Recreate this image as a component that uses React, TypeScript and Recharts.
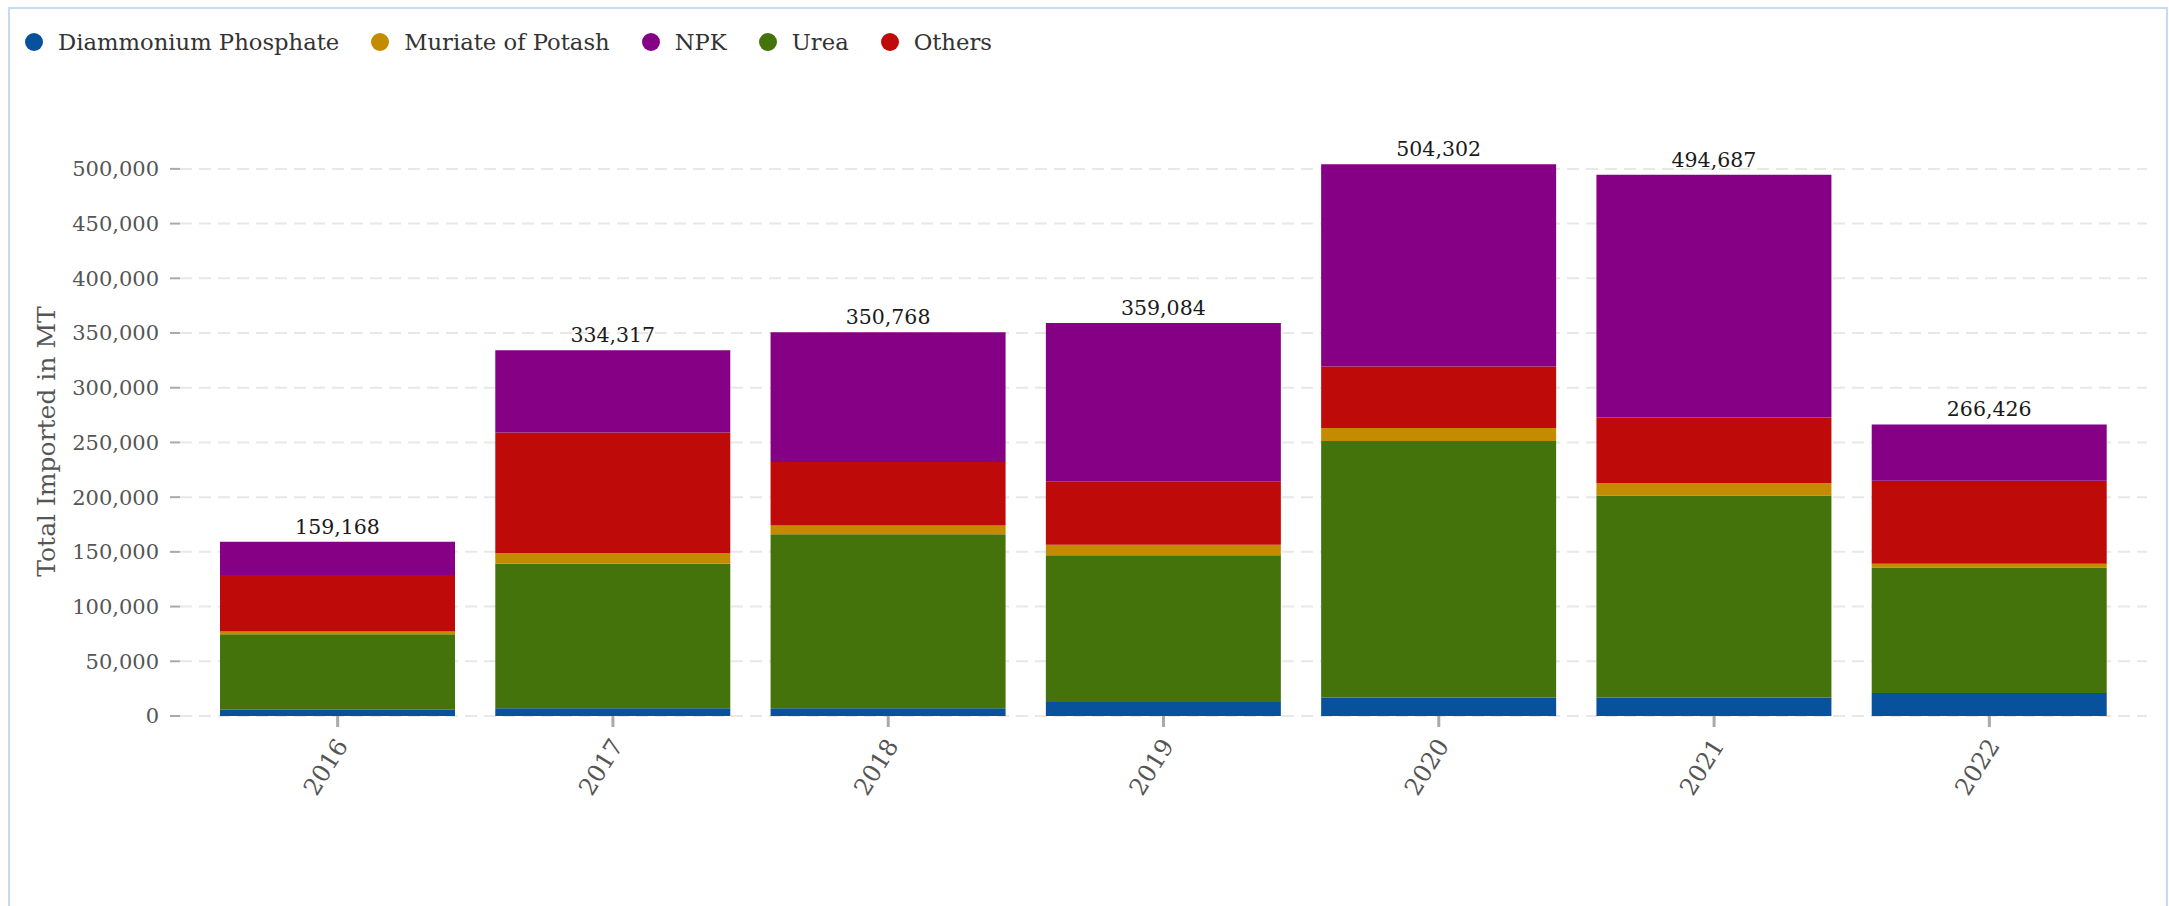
import React from "react";
import {
  BarChart,
  Bar,
  XAxis,
  YAxis,
  CartesianGrid,
  LabelList,
  Label,
} from "recharts";

const years = ["2016", "2017", "2018", "2019", "2020", "2021", "2022"];
const dap = [5600, 7000, 7000, 12900, 16800, 16800, 21000];
const urea = [69200, 132200, 159100, 133900, 234600, 184600, 114700];
const mop = [2400, 9800, 8000, 9800, 11900, 11200, 3500];
const others = [51700, 110200, 58000, 58000, 56000, 60100, 75900];
const npk = [30268, 75117, 118668, 144484, 185002, 221987, 51326];
const totals = [159168, 334317, 350768, 359084, 504302, 494687, 266426];
const yTicks = [0, 50000, 100000, 150000, 200000, 250000, 300000, 350000, 400000, 450000, 500000];
const Y_MAX = 520000;

// legend order (as shown) and colours
const series = [
  { key: "dap", name: "Diammonium Phosphate", color: "#08519c" },
  { key: "mop", name: "Muriate of Potash", color: "#c48a00" },
  { key: "npk", name: "NPK", color: "#850085" },
  { key: "urea", name: "Urea", color: "#44730b" },
  { key: "others", name: "Others", color: "#bf0a0a" },
];
const colorOf = (k: string) => series.find((s) => s.key === k)!.color;

// stacking order bottom -> top
const stackOrder = ["dap", "urea", "mop", "others", "npk"];

const data = years.map((year, i) => ({
  year,
  dap: dap[i],
  urea: urea[i],
  mop: mop[i],
  others: others[i],
  npk: npk[i],
  total: totals[i],
}));

const FONT = "'DejaVu Serif', serif";
const fmt = (v: number) => Number(v).toLocaleString("en-US");

function YearTick({ x, y, payload }: any) {
  return (
    <g transform={`translate(${x + 4},${y})`}>
      <text
        x={0}
        y={0}
        dy="0.35em"
        textAnchor="end"
        transform="rotate(-58)"
        fill="#555"
        fontSize={24}
        fontFamily={FONT}
      >
        {payload.value}
      </text>
    </g>
  );
}

function AxisTitle({ viewBox }: any) {
  const cx = 46;
  const cy = (viewBox?.y ?? 147) + (viewBox?.height ?? 569) / 2 + 10;
  return (
    <text
      x={cx}
      y={cy}
      transform={`rotate(-90, ${cx}, ${cy})`}
      textAnchor="middle"
      dominantBaseline="central"
      fill="#555"
      fontSize={25}
      fontFamily={FONT}
    >
      Total Imported in MT
    </text>
  );
}

function LegendRow() {
  return (
    <div
      style={{
        position: "absolute",
        left: 25,
        top: 28,
        display: "flex",
        alignItems: "center",
        fontFamily: FONT,
        fontSize: 22.7,
        color: "#333",
        lineHeight: "28px",
        whiteSpace: "nowrap",
      }}
    >
      {series.map((s) => (
        <span key={s.key} style={{ display: "flex", alignItems: "center", marginRight: 32 }}>
          <span
            style={{
              width: 18,
              height: 18,
              borderRadius: "50%",
              background: s.color,
              marginRight: 15,
              display: "inline-block",
            }}
          />
          {s.name}
        </span>
      ))}
    </div>
  );
}

// grid only at the tick values (no line at the top edge of the plot)
const gridRows = ({ offset }: any) =>
  yTicks.map((t) => offset.top + offset.height * (1 - t / Y_MAX));

export default function App() {
  return (
    <div
      style={{
        position: "fixed",
        left: 0,
        top: 0,
        width: 2169,
        height: 906,
        overflow: "hidden",
        background: "#fff",
        fontFamily: FONT,
      }}
    >
      <div
        style={{
          position: "absolute",
          left: 8,
          top: 7,
          width: 2160,
          height: 940,
          border: "2px solid #c4dbf1",
          boxSizing: "border-box",
        }}
      />
      <LegendRow />
      <div style={{ position: "absolute", left: 0, top: 0 }}>
        <BarChart
          width={2169}
          height={906}
          data={data}
          margin={{ top: 147, right: 22, left: 0, bottom: 0 }}
        >
          <CartesianGrid
            vertical={false}
            stroke="#e8e8e8"
            strokeWidth={2}
            strokeDasharray="12 7"
            horizontalCoordinatesGenerator={gridRows}
          />
          <XAxis
            dataKey="year"
            axisLine={false}
            tickLine={{ stroke: "#aaa", strokeWidth: 3 }}
            tickSize={11}
            tickMargin={14}
            interval={0}
            padding={{ left: 20, right: 20 }}
            height={190}
            tick={<YearTick />}
          />
          <YAxis
            width={180}
            domain={[0, Y_MAX]}
            ticks={yTicks}
            axisLine={false}
            tickLine={{ stroke: "#aaa", strokeWidth: 2 }}
            tickSize={10}
            tickMargin={11}
            tickFormatter={fmt}
            tick={{ fill: "#555", fontSize: 21, fontFamily: FONT }}
          >
            <Label content={<AxisTitle />} />
          </YAxis>
          {stackOrder.map((k) => (
            <Bar
              key={k}
              dataKey={k}
              stackId="a"
              fill={colorOf(k)}
              barSize={235}
              isAnimationActive={false}
            >
              {k === "npk" && (
                <LabelList
                  dataKey="total"
                  position="top"
                  offset={8}
                  formatter={fmt}
                  fill="#1a1a1a"
                  fontSize={20.5}
                  fontFamily={FONT}
                />
              )}
            </Bar>
          ))}
        </BarChart>
      </div>
    </div>
  );
}
